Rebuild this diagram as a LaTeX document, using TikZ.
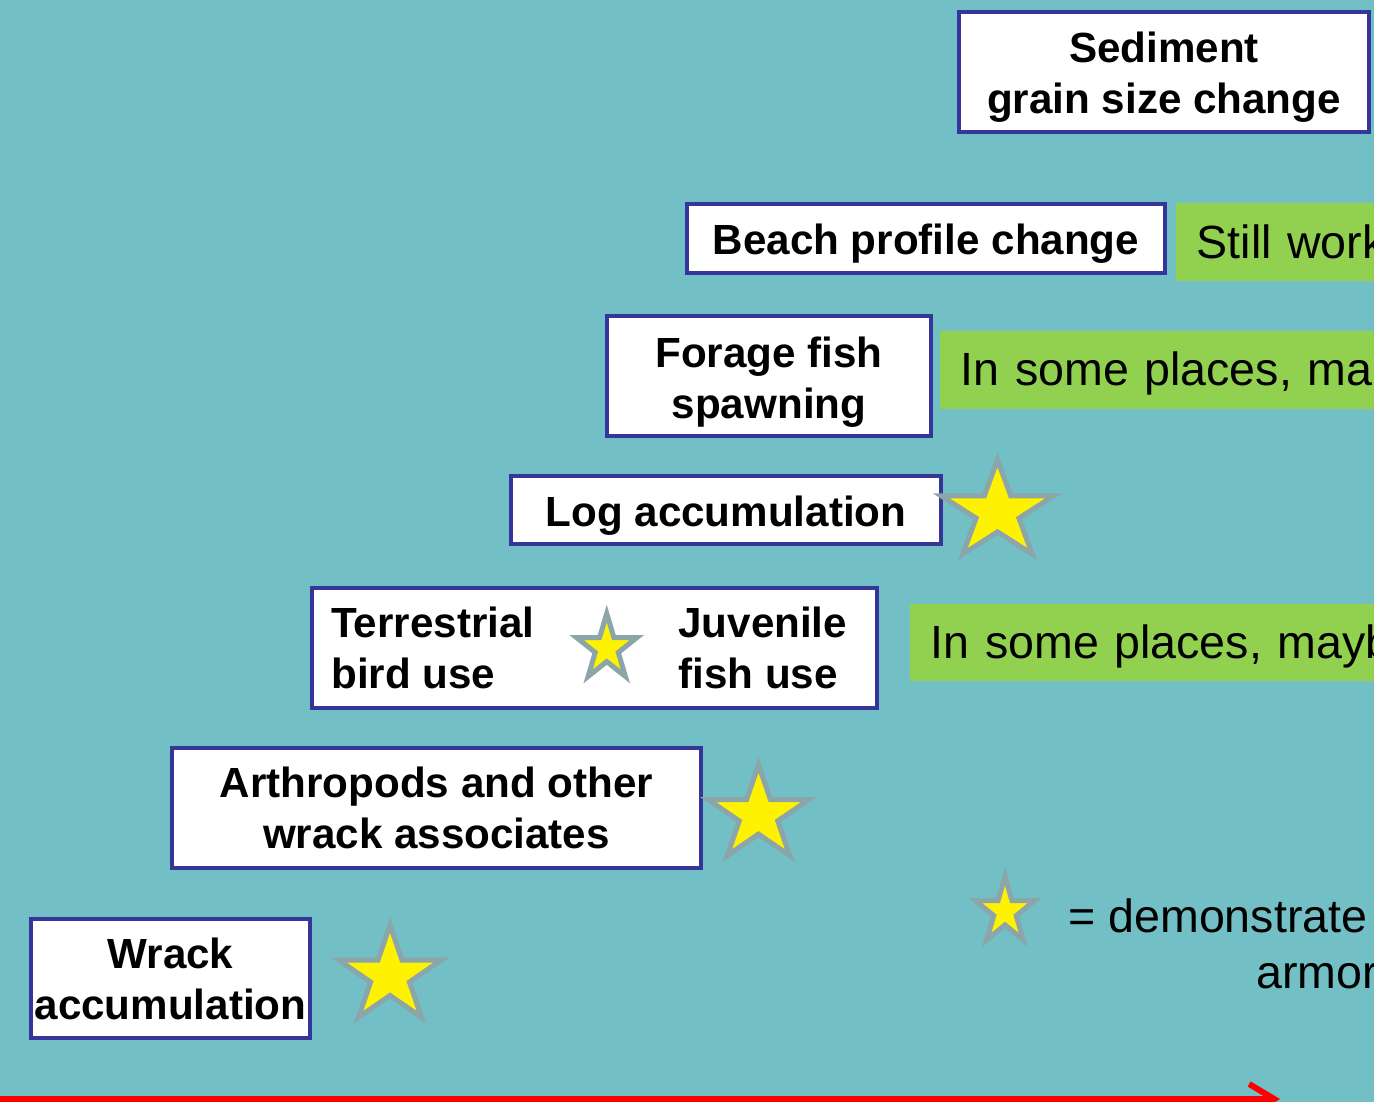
\documentclass[tikz,border=0pt]{standalone}
\usepackage{fontspec}
\setmainfont{Liberation Sans}
\usepackage{xcolor}
\usetikzlibrary{arrows.meta}
\definecolor{seaTeal}{HTML}{72BFC5}
\definecolor{boxBlue}{HTML}{35359A}
\definecolor{noteGreen}{HTML}{92D050}
\definecolor{starGrey}{HTML}{8BA5A8}
\definecolor{arrowRed}{HTML}{FF0000}

\begin{document}
\begin{tikzpicture}[x=0.02cm, y=-0.02cm,
    stepbox/.style={draw=boxBlue, line width=0.09cm, fill=white, inner sep=0pt,
      align=center, font=\bfseries\fontsize{24}{29}\selectfont},
    lowtext/.style={execute at begin node={\rule{0pt}{#1}}},
    notebar/.style={fill=noteGreen, anchor=west, minimum height=1.56cm, text width=10cm,
      inner xsep=0.41cm, align=left, font=\fontsize{26.5}{31}\selectfont},
    starmark/.style={fill=yellow, draw=starGrey, line width=0.1cm, line join=miter},
    keytext/.style={anchor=base west, inner sep=0pt, font=\fontsize{26.5}{31}\selectfont},
    axisArrow/.style={-{Straight Barb[length=0.5cm, width=0.6cm]}, draw=arrowRed, line width=0.12cm}]
        \useasboundingbox (0,0) rectangle (1374,1102);
        \clip (0,0) rectangle (1374,1102);
        \fill[seaTeal] (0,0) rectangle (1374,1102);
        % ── Green notes (run off the right edge) ──
        \node[notebar] (workNote) at (1176,242) {Still work};
        \node[notebar, lowtext=0.82cm] (forageNote) at (940,370) {In some places, ma};
        \node[notebar, lowtext=0.84cm, minimum height=1.54cm] (fishNote) at (910,642.5) {In some places, mayb};
        % ── Staircase of boxes ──
        \node[stepbox, minimum width=8.2cm, minimum height=2.4cm] (sedimentBox) at (1164,72) {\rule{0pt}{0.82cm}Sediment\\grain size change};
        \node[stepbox, lowtext=0.82cm, minimum width=9.56cm, minimum height=1.38cm] (beachBox) at (926,238.5) {Beach profile change};
        \node[stepbox, minimum width=6.48cm, minimum height=2.4cm] (forageBox) at (769,376) {\rule{0pt}{0.84cm}Forage fish\\spawning};
        \node[stepbox, lowtext=0.82cm, minimum width=8.6cm, minimum height=1.36cm] (logBox) at (726,510) {Log accumulation};
        \node[stepbox, minimum width=11.3cm, minimum height=2.4cm] (birdFishBox) at (594.5,648) {};
        \node[anchor=west, inner sep=0pt, align=left, font=\bfseries\fontsize{24}{29}\selectfont] (birdText) at (331,648) {Terrestrial\\bird use};
        \node[anchor=west, inner sep=0pt, align=left, font=\bfseries\fontsize{24}{29}\selectfont] (fishText) at (678,648) {Juvenile\\fish use};
        \node[stepbox, minimum width=10.58cm, minimum height=2.4cm] (arthropodBox) at (436.5,808) {Arthropods and other\\wrack associates};
        \node[stepbox, minimum width=5.58cm, minimum height=2.38cm] (wrackBox) at (170.5,978.5) {Wrack\\accumulation};
        % ── Stars: centre x / centre y / radius x / radius y ──
        \foreach \cx/\cy/\rx/\ry in {997.5/512/59/52, 758.5/815/53/50, 390/976/53.5/51,
                                     606.75/648.3/31.75/34.8, 1005/911.5/31/35} {
          \draw[starmark] plot[samples at={0,...,9}, variable=\k]
            ({\cx + \rx*ifthenelse(mod(\k,2)==0,1,0.382)*cos(90+36*\k)},
             {\cy - \ry*ifthenelse(mod(\k,2)==0,1,0.382)*sin(90+36*\k)}) -- cycle;
        }
        % ── Legend ──
        \node[keytext] (legendTop) at (1068,932) {= demonstrate};
        \node[keytext] (legendBottom) at (1256,988) {armor};
        % ── Axis arrow ──
        \coordinate (axisStart) at (0,1099);
        \coordinate (axisEnd) at (1280,1099);
        \draw[axisArrow] (axisStart) -- (axisEnd);
      \end{tikzpicture}
\end{document}
